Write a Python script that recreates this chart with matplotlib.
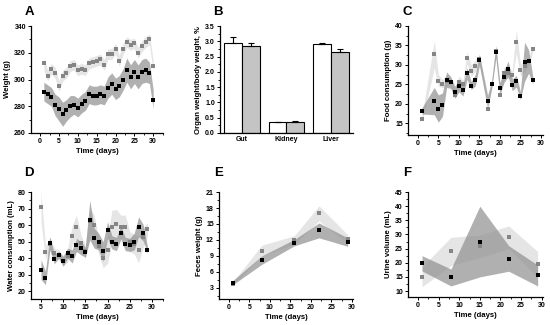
import matplotlib
matplotlib.use("Agg")
import matplotlib.pyplot as plt
import numpy as np
from matplotlib.ticker import AutoMinorLocator, MultipleLocator, FormatStrFormatter

plt.rcParams["font.family"] = ["Liberation Sans", "DejaVu Sans"]
plt.rcParams["font.weight"] = "bold"
plt.rcParams["axes.labelweight"] = "bold"

# --- A: body weight ---
days_a = list(range(1, 31))
wt_ctrl = [312, 303, 308, 305, 295, 303, 305, 310, 311, 307, 308, 307, 312, 313, 314,
           315, 311, 319, 319, 323, 314, 323, 328, 326, 327, 320, 325, 328, 330, 310]
wt_ctrl_sd = [5, 4, 4, 4, 4, 4, 4, 4, 4, 4, 4, 4, 4, 4, 4,
              4, 4, 4, 4, 4, 4, 4, 4, 4, 4, 4, 4, 4, 4, 4]
wt_trt = [291, 289, 287, 281, 278, 274, 277, 280, 281, 279, 282, 284, 289, 288, 288,
          289, 288, 294, 297, 293, 295, 300, 307, 302, 306, 302, 306, 307, 305, 285]
wt_trt_sd = [7, 7, 7, 8, 9, 9, 8, 8, 7, 7, 7, 7, 7, 7, 7,
             7, 7, 8, 8, 8, 8, 8, 9, 9, 9, 9, 9, 9, 8, 7]

# --- B: organ weight / body weight ---
organs = ["Gut", "Kidney", "Liver"]
organ_ctrl = [2.96, 0.36, 2.90]
organ_ctrl_err = [0.17, 0.01, 0.06]
organ_trt = [2.86, 0.37, 2.65]
organ_trt_err = [0.08, 0.015, 0.11]

# --- C: food consumption ---
days_c = [1, 4, 5, 6, 7, 8, 9, 10, 11, 12, 13, 14, 15, 17, 18, 19, 20, 21, 22, 23, 24, 25, 26, 27, 28]
food_ctrl = [16.0, 32.7, 26.0, 25.2, 26.0, 25.7, 22.3, 25.7, 25.0, 31.8, 28.5, 29.8, 31.5,
             18.8, 25.0, 33.5, 22.3, 28.0, 28.0, 27.5, 36.0, 28.7, 29.7, 31.0, 34.0]
food_ctrl_sd = [0.8, 3.5, 1.5, 1.0, 1.5, 1.0, 1.0, 1.5, 1.0, 1.5, 1.5, 1.5, 1.0,
                1.0, 1.0, 1.5, 1.0, 1.5, 1.5, 1.0, 3.0, 1.5, 1.5, 1.0, 0.8]
food_trt = [18.2, 20.7, 18.8, 19.8, 26.2, 25.5, 23.0, 24.6, 23.5, 27.8, 24.7, 26.1, 31.3,
            20.7, 25.0, 33.4, 24.0, 27.0, 29.0, 24.9, 25.8, 22.1, 30.8, 30.9, 26.1]
food_trt_sd = [0.8, 3.5, 3.5, 3.0, 2.0, 1.5, 1.5, 1.5, 1.5, 1.5, 1.0, 1.5, 1.5,
               1.5, 1.0, 1.5, 1.5, 1.5, 2.0, 1.5, 1.5, 1.0, 5.0, 3.0, 1.0]

# --- D: water consumption ---
days_d = list(range(5, 30))
water_ctrl = [71, 43.5, 48.5, 43, 42, 38.5, 41.5, 53.5, 59, 49, 44, 62.5, 60, 47.5, 40,
              45, 59, 60.5, 59, 59, 50, 48.5, 45, 52.5, 57.5]
water_ctrl_sd = [9, 4, 4, 3, 3, 3, 4, 6, 7, 5, 4, 8, 6, 5, 6,
                 8, 10, 9, 7, 7, 6, 6, 8, 6, 4]
water_trt = [33, 28, 49, 39.5, 42, 38, 43, 41, 48, 46, 43.5, 63, 52, 50, 44,
             57, 49.5, 48.5, 55.5, 48.5, 48, 50, 59, 55.5, 45]
water_trt_sd = [6, 4, 4, 3, 2, 3, 3, 4, 4, 4, 3, 12, 6, 5, 6,
                5, 4, 4, 4, 4, 4, 5, 6, 5, 2]

# --- E: feces weight ---
days_e = [1, 8, 16, 22, 29]
feces_ctrl = [3.8, 10.0, 12.0, 17.0, 12.2]
feces_ctrl_sd = [0.3, 1.0, 0.8, 1.4, 0.8]
feces_trt = [4.0, 8.2, 11.5, 13.8, 11.6]
feces_trt_sd = [0.4, 0.8, 0.6, 1.4, 0.8]

# --- F: urine volume ---
days_f = [1, 8, 15, 22, 29]
urine_ctrl = [15.0, 24.0, 25.8, 29.0, 19.5]
urine_ctrl_sd = [3.5, 5.0, 4.0, 4.0, 4.5]
urine_trt = [19.8, 14.8, 27.5, 21.5, 15.5]
urine_trt_sd = [2.7, 3.0, 12.5, 4.5, 3.7]

LIGHT_FILL = "#dadada"
DARK_FILL = "#8f8f8f"
LIGHT_PT = "#858585"
TICK_FS = 5.0
LABEL_FS = 5.6


def style(ax, xlabel, ylabel):
    for s in ("top", "right"):
        ax.spines[s].set_visible(False)
    for s in ("left", "bottom"):
        ax.spines[s].set_linewidth(0.9)
    ax.tick_params(which="major", direction="out", length=2.2, width=0.7,
                   labelsize=TICK_FS, pad=1.5)
    ax.tick_params(which="minor", direction="out", length=1.2, width=0.6)
    for lab in ax.get_xticklabels() + ax.get_yticklabels():
        lab.set_fontweight("bold")
    if xlabel:
        ax.set_xlabel(xlabel, fontsize=LABEL_FS, labelpad=2)
    ax.set_ylabel(ylabel, fontsize=LABEL_FS, labelpad=2)


def banded(ax, x, c, c_sd, t, t_sd):
    x = np.asarray(x)
    c, c_sd, t, t_sd = map(np.asarray, (c, c_sd, t, t_sd))
    ax.fill_between(x, c - c_sd, c + c_sd, color=LIGHT_FILL, alpha=0.7, lw=0)
    ax.fill_between(x, t - t_sd, t + t_sd, color=DARK_FILL, alpha=0.7, lw=0)
    ax.plot(x, c, ls="none", marker="s", ms=2.4, color=LIGHT_PT, mew=0)
    ax.plot(x, t, ls="none", marker="s", ms=2.3, color="black", mew=0)


fig = plt.figure(figsize=(5.5, 3.25), dpi=100)

# A
axA = fig.add_axes([0.0564, 0.5908, 0.24, 0.329])
banded(axA, days_a, wt_ctrl, wt_ctrl_sd, wt_trt, wt_trt_sd)
axA.set_xlim(-2.4, 32.6)
axA.set_ylim(260, 340)
axA.xaxis.set_major_locator(MultipleLocator(5))
axA.yaxis.set_major_locator(MultipleLocator(20))
style(axA, "Time (days)", "Weight (g)")

# B
axB = fig.add_axes([0.4, 0.5908, 0.2418, 0.329])
xb = np.arange(len(organs))
w = 0.4
axB.bar(xb - w / 2, organ_ctrl, w, color="white", edgecolor="black", lw=0.8,
        yerr=[[0] * 3, organ_ctrl_err], error_kw=dict(capsize=2, elinewidth=0.8, capthick=0.8))
axB.bar(xb + w / 2, organ_trt, w, color="#c4c4c4", edgecolor="black", lw=0.8,
        yerr=[[0] * 3, organ_trt_err], error_kw=dict(capsize=2, elinewidth=0.8, capthick=0.8))
axB.set_xlim(-0.5, 2.5)
axB.set_ylim(0, 3.5)
axB.set_xticks(xb)
axB.set_xticklabels(organs)
axB.yaxis.set_major_locator(MultipleLocator(0.5))
axB.yaxis.set_major_formatter(FormatStrFormatter("%.1f"))
style(axB, None, "Organ weight/body weight, %")
axB.tick_params(axis="x", length=0, pad=2.5)

# C
axC = fig.add_axes([0.7418, 0.5846, 0.2455, 0.3354])
banded(axC, days_c, food_ctrl, food_ctrl_sd, food_trt, food_trt_sd)
axC.set_xlim(-2.4, 30.5)
axC.set_ylim(12, 40)
axC.xaxis.set_major_locator(MultipleLocator(5))
axC.yaxis.set_major_locator(MultipleLocator(5))
style(axC, "Time (days)", "Food consumption (g)")

# D
axD = fig.add_axes([0.0564, 0.08, 0.24, 0.329])
banded(axD, days_d, water_ctrl, water_ctrl_sd, water_trt, water_trt_sd)
axD.set_xlim(2.75, 32.5)
axD.set_ylim(15.2, 80)
axD.xaxis.set_major_locator(MultipleLocator(5))
axD.yaxis.set_major_locator(MultipleLocator(10))
style(axD, "Time (days)", "Water consumption (mL)")

# E
axE = fig.add_axes([0.3982, 0.08, 0.2436, 0.329])
banded(axE, days_e, feces_ctrl, feces_ctrl_sd, feces_trt, feces_trt_sd)
axE.set_xlim(-2.4, 30.3)
axE.set_ylim(0.9, 21)
axE.xaxis.set_major_locator(MultipleLocator(5))
axE.yaxis.set_major_locator(MultipleLocator(3))
style(axE, "Time (days)", "Feces weight (g)")

# F
axF = fig.add_axes([0.7418, 0.0862, 0.2455, 0.323])
banded(axF, days_f, urine_ctrl, urine_ctrl_sd, urine_trt, urine_trt_sd)
axF.set_xlim(-2.4, 30.3)
axF.set_ylim(7.9, 45)
axF.xaxis.set_major_locator(MultipleLocator(5))
axF.yaxis.set_major_locator(MultipleLocator(5))
style(axF, "Time (days)", "Urine volume (mL)")

for ax in (axA, axC, axD, axE, axF):
    ax.xaxis.set_minor_locator(AutoMinorLocator(2))
    ax.yaxis.set_minor_locator(AutoMinorLocator(2))
axB.yaxis.set_minor_locator(AutoMinorLocator(2))

# panel letters (pixel positions converted to figure fraction)
letters = [("A", 29, 12), ("B", 218, 12), ("C", 407, 12),
           ("D", 29, 173), ("E", 219, 173), ("F", 407, 173)]
for txt, px, py in letters:
    fig.text(px / 550, 1 - py / 325, txt, fontsize=9.5, fontweight="bold",
             ha="center", va="center")

fig.savefig("out.png", dpi=100)
